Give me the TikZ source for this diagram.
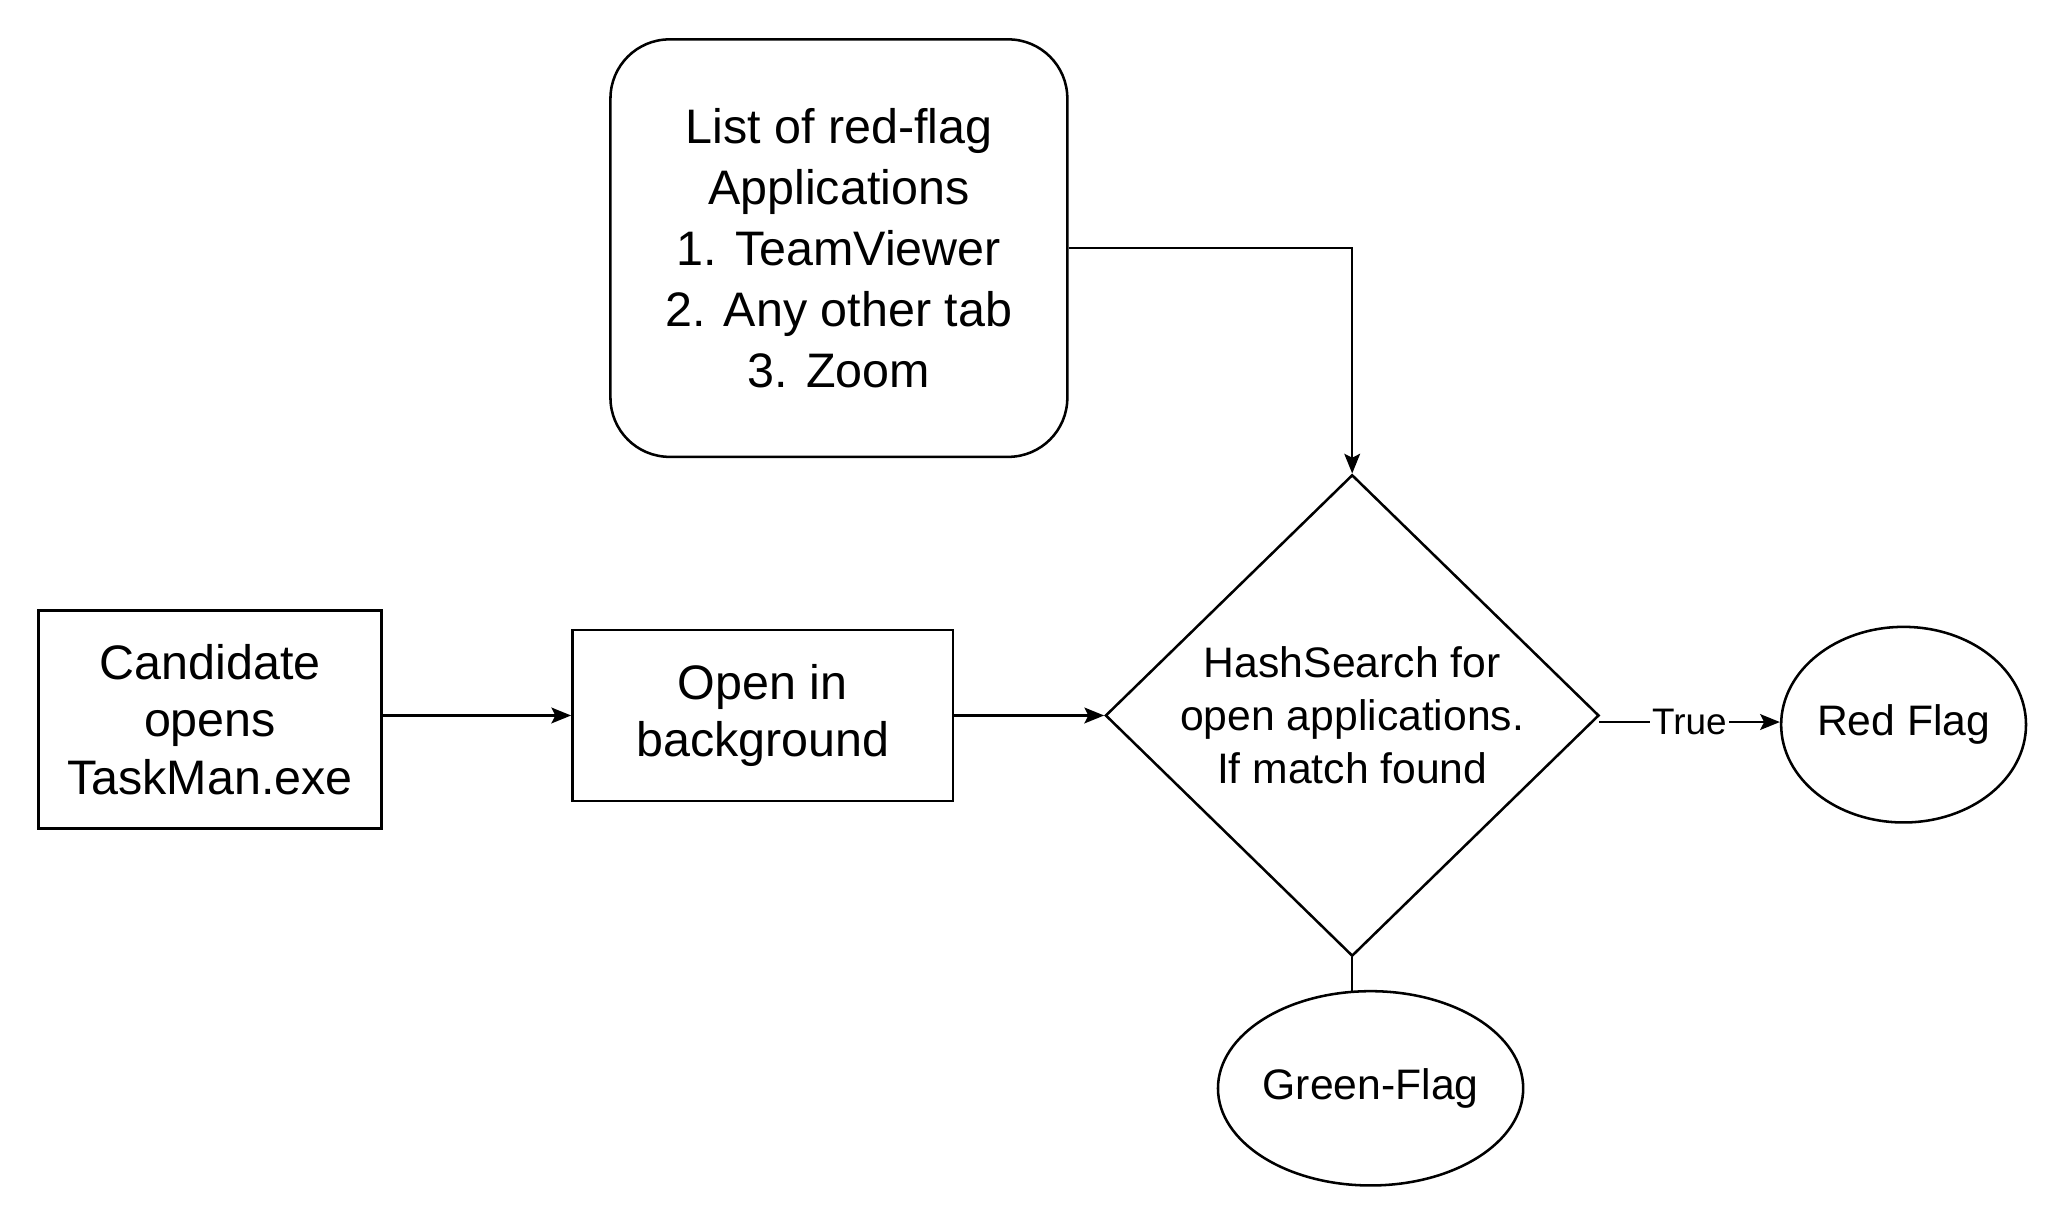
\documentclass[tikz,border=0pt]{standalone}
\usepackage{fontspec}
\setmainfont{Liberation Sans}
\usetikzlibrary{shapes.geometric,arrows.meta}
\begin{document}
\begin{tikzpicture}[x=0.02cm,y=-0.02cm,
  every path/.style={line width=1.1pt},
  box/.style={draw,align=center,font=\fontsize{21}{25}\selectfont,inner sep=0pt},
  arr/.style={-{Stealth[length=0.3cm,width=0.24cm,inset=0.06cm]}}]
\useasboundingbox[fill=white] (0,0) rectangle (1560,925);
\node[box,rounded corners=0.9cm,minimum width=348*0.02cm,minimum height=318*0.02cm,font=\fontsize{21}{26.5}\selectfont] (list) at (639,189)
  {List of red-flag\\Applications\\1. TeamViewer\\2. Any other tab\\3. Zoom};
\node[box,minimum width=261*0.02cm,minimum height=166*0.02cm] (cand) at (160,548) {Candidate\\opens\\TaskMan.exe};
\node[box,minimum width=290*0.02cm,minimum height=130*0.02cm] (open) at (581,545) {Open in\\background};
\node[draw,diamond,minimum width=376*0.02cm,minimum height=333*0.02cm,inner sep=0pt,align=center,font=\fontsize{18.5}{23}\selectfont] (dia) at (1030,545)
  {HashSearch for\\open applications.\\If match found};
\node[draw,ellipse,minimum width=174*0.02cm,minimum height=149*0.02cm,inner sep=0pt,font=\fontsize{18.5}{22}\selectfont] (red) at (1450,552) {Red Flag};
\node[draw,ellipse,minimum width=204*0.02cm,minimum height=148*0.02cm,inner sep=0pt,font=\fontsize{18.5}{22}\selectfont] (green) at (1044,829) {Green-Flag};
\coordinate (c1) at (1030,189);
\coordinate (gtop) at (1030,756);
\draw[arr] (list.east |- c1) -- (c1) -- (dia.north);
\draw[arr] (cand.east |- open.west) -- (open.west);
\draw[arr] (open.east) -- (dia.west);
\draw[arr] (1218,550) -- node[fill=white,inner sep=1pt,font=\fontsize{16}{18}\selectfont]{True} (red.west |- 0,550);
\draw (dia.south) -- (gtop);
\end{tikzpicture}
\end{document}
